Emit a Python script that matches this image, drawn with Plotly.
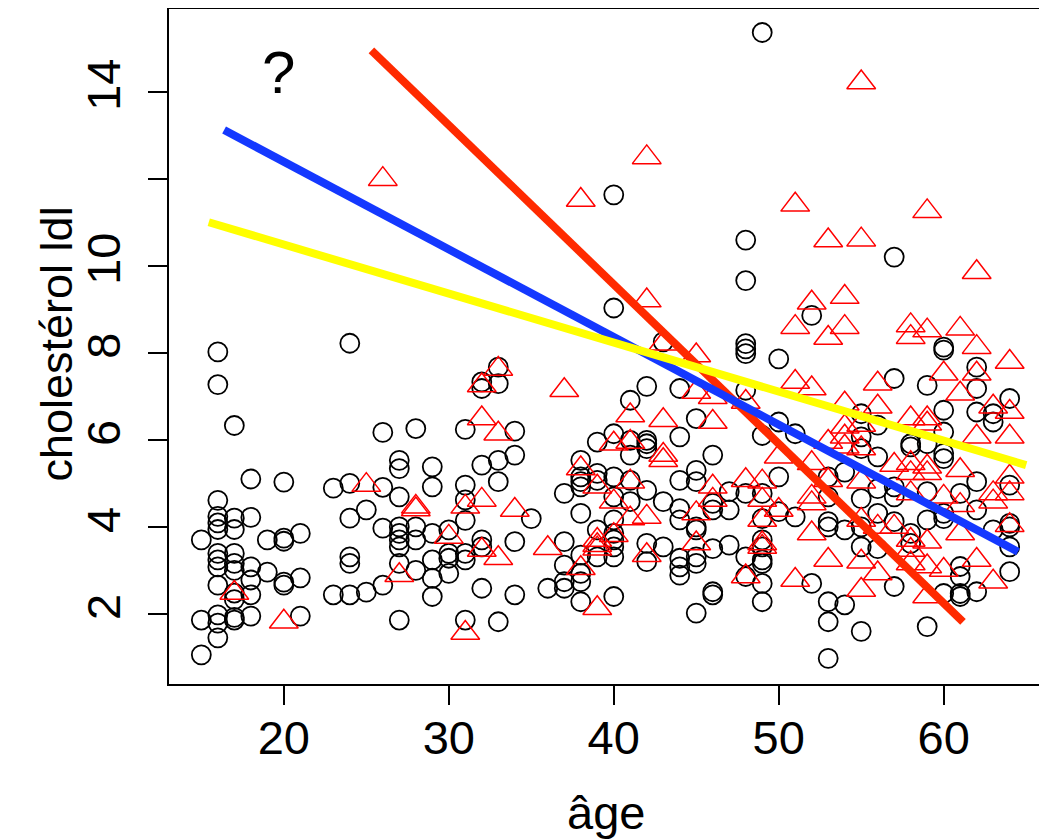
import plotly.graph_objects as go

# ---- data (age, cholesterol LDL) ----
circle_age = (
    [15] * 3 + [16] * 13 + [17] * 10 + [18] * 6 + [19] * 2 + [20] * 5 + [21] * 3 +
    [23] * 2 + [24] * 6 + [25] * 2 + [26] * 4 + [27] * 9 + [28] * 4 + [29] * 6 +
    [30] * 4 + [31] * 7 + [32] * 6 + [33] * 5 + [34] * 4 + [35] * 1 + [36] * 1 +
    [37] * 5 + [38] * 9 + [39] * 5 + [40] * 11 + [41] * 5 + [42] * 7 + [43] * 3 +
    [44] * 8 + [45] * 8 + [46] * 6 + [47] * 3 + [48] * 9 + [49] * 10 + [50] * 4 +
    [51] * 2 + [52] * 2 + [53] * 7 + [54] * 3 + [55] * 7 + [56] * 5 + [57] * 6 +
    [58] * 4 + [59] * 5 + [60] * 9 + [61] * 5 + [62] * 6 + [63] * 3 + [64] * 6
)
circle_chol = [
    3.70, 1.86, 1.06,
    8.02, 7.27, 4.61, 4.24, 4.09, 3.94, 3.39, 3.24, 3.08, 2.66, 1.98, 1.79, 1.45,
    6.33, 4.20, 3.94, 3.39, 3.16, 3.00, 2.48, 2.33, 1.86, 1.92,
    5.10, 4.22, 3.08, 2.78, 2.44, 1.95,
    3.70, 2.96,
    5.03, 3.74, 3.67, 2.73, 2.66,
    3.85, 2.83, 1.95,
    4.89, 2.44,
    8.22, 5.00, 4.20, 3.31, 3.16, 2.44,
    4.39, 2.50,
    6.17, 4.91, 3.97, 2.66,
    5.53, 5.34, 4.69, 4.00, 3.85, 3.70, 3.54, 3.16, 1.86,
    6.26, 4.00, 3.70, 3.00,
    5.38, 4.92, 3.85, 3.24, 2.82, 2.40,
    3.93, 3.39, 3.28, 2.93,
    6.24, 4.96, 4.62, 4.15, 3.39, 3.24, 1.86,
    7.33, 7.18, 5.42, 3.70, 3.54, 2.59,
    7.67, 7.29, 5.53, 5.04, 1.82,
    6.20, 5.65, 3.66, 2.44,
    4.19,
    2.59,
    4.77, 3.66, 3.12, 2.74, 2.59,
    5.53, 5.15, 5.04, 4.92, 4.31, 3.35, 2.93, 2.74, 2.28,
    5.95, 5.23, 5.07, 3.93, 3.31,
    11.63, 9.03, 6.14, 5.15, 4.69, 4.16, 3.85, 3.70, 3.54, 3.31, 2.40,
    6.91, 5.99, 5.65, 5.07, 4.58,
    7.23, 5.99, 5.91, 5.80, 4.84, 3.62, 3.20,
    8.25, 4.58, 3.54,
    7.18, 6.07, 5.07, 4.42, 4.16, 3.28, 3.08, 2.89,
    6.49, 5.30, 5.04, 4.00, 3.93, 3.31, 3.16, 2.02,
    5.65, 4.54, 4.39, 3.50, 2.51, 2.44,
    4.81, 4.39, 3.58,
    10.59, 9.66, 8.21, 8.09, 7.98, 7.14, 4.77, 3.31, 2.86,
    15.36, 6.10, 4.77, 4.19, 3.70, 3.54, 3.24, 3.16, 2.70, 2.28,
    7.86, 6.41, 5.15, 4.35,
    6.14, 4.23,
    8.86, 2.70,
    5.15, 4.69, 4.12, 4.00, 2.28, 1.82, 0.98,
    5.26, 3.93, 2.21,
    6.60, 6.07, 5.80, 4.65, 4.00, 3.54, 1.60,
    6.34, 5.61, 4.88, 4.31, 3.50,
    10.20, 7.41, 4.92, 4.69, 4.12, 2.63,
    5.91, 5.84, 3.85, 3.62,
    7.25, 5.91, 4.81, 4.16, 1.71,
    8.13, 8.06, 6.68, 6.18, 5.69, 5.57, 4.31, 4.19, 2.47,
    4.77, 3.09, 2.86, 2.47, 2.40,
    7.67, 7.18, 6.64, 5.04, 4.39, 2.51,
    6.60, 6.41, 3.93,
    6.95, 4.96, 4.08, 4.00, 3.54, 2.97,
]

tri_age = (
    [17] * 1 + [20] * 1 + [25] * 1 + [26] * 1 + [27] * 1 + [28] * 2 + [30] * 1 +
    [31] * 2 + [32] * 4 + [33] * 3 + [34] * 1 + [36] * 1 + [37] * 1 + [38] * 3 +
    [39] * 5 + [40] * 3 + [41] * 4 + [42] * 4 + [43] * 4 + [45] * 4 + [46] * 4 +
    [48] * 3 + [49] * 5 + [50] * 2 + [51] * 4 + [52] * 6 + [53] * 5 + [54] * 6 +
    [55] * 8 + [56] * 4 + [57] * 2 + [58] * 9 + [59] * 9 + [60] * 3 + [61] * 5 +
    [62] * 5 + [63] * 4 + [64] * 6
)
tri_chol = [
    2.48,
    1.82,
    4.96,
    11.99,
    2.89,
    4.46, 4.40,
    3.77,
    4.46, 1.56,
    7.25, 6.49, 4.62, 3.47,
    7.63, 6.14, 3.28,
    4.39,
    3.51,
    7.14,
    11.51, 5.34, 3.05,
    4.92, 3.70, 3.58, 3.50, 2.13,
    5.91, 4.58, 3.81,
    6.56, 5.95, 5.04, 4.19,
    12.49, 9.20, 4.23, 3.35,
    8.21, 6.45, 5.65, 5.53,
    7.94, 7.10, 4.31, 3.62,
    6.98, 6.41, 4.92, 4.62,
    6.87, 5.07, 2.86,
    5.04, 4.62, 4.16, 3.62, 3.54,
    5.61, 4.39,
    11.40, 8.59, 7.33, 2.78,
    9.15, 7.18, 5.46, 4.69, 4.54, 3.85,
    10.58, 8.34, 5.95, 5.07, 3.24,
    9.28, 8.59, 6.83, 6.30, 6.07, 5.84,
    14.21, 10.60, 6.34, 5.80, 5.04, 4.16, 3.20, 2.55,
    7.29, 6.76, 4.00, 2.93,
    5.42, 4.00,
    8.63, 8.36, 6.49, 5.46, 5.23, 4.77, 3.70, 3.47, 3.16,
    11.25, 8.51, 6.49, 6.37, 5.38, 5.23, 3.66, 3.09, 2.40,
    7.52, 4.69, 3.01,
    8.55, 7.06, 5.30, 4.50, 3.85,
    9.85, 8.13, 7.52, 6.07, 3.24,
    6.76, 4.77, 4.58, 2.74,
    7.79, 6.64, 6.07, 5.15, 4.77, 4.04,
]

# fitted lines (segment end points)
red_line_age = [25.31, 61.17]
red_line_chol = [14.95, 1.82]
blue_line_age = [16.38, 64.5]
blue_line_chol = [13.12, 3.43]
yellow_line_age = [15.45, 65.0]
yellow_line_chol = [11.0, 5.42]

x_ticks = [20, 30, 40, 50, 60]
y_ticks = [2, 4, 6, 8, 10, 12, 14]
y_ticktext = ["2", "4", "6", "8", "10", "", "14"]

FONT = "Liberation Sans, Arial, Helvetica, sans-serif"

fig = go.Figure()
fig.add_trace(go.Scatter(
    x=circle_age, y=circle_chol, mode="markers",
    marker=dict(symbol="circle-open", size=19, color="black",
                line=dict(color="black", width=1.8)),
    hoverinfo="x+y", showlegend=False))
fig.add_trace(go.Scatter(
    x=tri_age, y=tri_chol, mode="markers",
    marker=dict(symbol="triangle-up-open", size=25, color="#ff0000",
                line=dict(color="#ff0000", width=1.5)),
    hoverinfo="x+y", showlegend=False))
for xs, ys, col in [(red_line_age, red_line_chol, "#ff2a00"),
                    (blue_line_age, blue_line_chol, "#1438ff"),
                    (yellow_line_age, yellow_line_chol, "#ffff00")]:
    fig.add_trace(go.Scatter(x=xs, y=ys, mode="lines",
                             line=dict(color=col, width=8),
                             hoverinfo="skip", showlegend=False))

fig.add_annotation(x=19.66, y=14.44, xref="x", yref="y", text="?",
                   showarrow=False, font=dict(family=FONT, size=60, color="black"),
                   xanchor="center", yanchor="middle")

# axis titles as annotations (exact placement)
fig.add_annotation(x=0, y=0.5, xref="paper", yref="paper", text="cholestérol ldl",
                   textangle=-90, showarrow=False, xanchor="center", yanchor="middle",
                   xshift=-113, yshift=2,
                   font=dict(family=FONT, size=45, color="black"))
fig.add_annotation(x=0.5, y=0, xref="paper", yref="paper", text="âge",
                   showarrow=False, xanchor="center", yanchor="middle",
                   yshift=-128,
                   font=dict(family=FONT, size=47, color="black"))

fig.update_layout(
    template="none",
    width=1047, height=840,
    margin=dict(l=161, r=13, t=1, b=164, autoexpand=False),
    paper_bgcolor="white", plot_bgcolor="white",
    font=dict(family=FONT, color="black", size=47),
    xaxis=dict(range=[13.04, 65.96], tickvals=x_ticks, ticks="outside",
               ticklen=19, tickwidth=2, tickcolor="black",
               ticklabelstandoff=-7,
               showline=True, linewidth=2, linecolor="black", mirror=True,
               showgrid=False, zeroline=False, automargin=False,
               tickfont=dict(size=47)),
    yaxis=dict(range=[0.39, 15.9], tickvals=y_ticks, ticktext=y_ticktext,
               ticks="outside", ticklen=19, tickwidth=2, tickcolor="black",
               tickangle=-90, ticklabelstandoff=9,
               showline=True, linewidth=2, linecolor="black", mirror=True,
               showgrid=False, zeroline=False, automargin=False,
               tickfont=dict(size=47)),
)

fig.write_html("out.html")
